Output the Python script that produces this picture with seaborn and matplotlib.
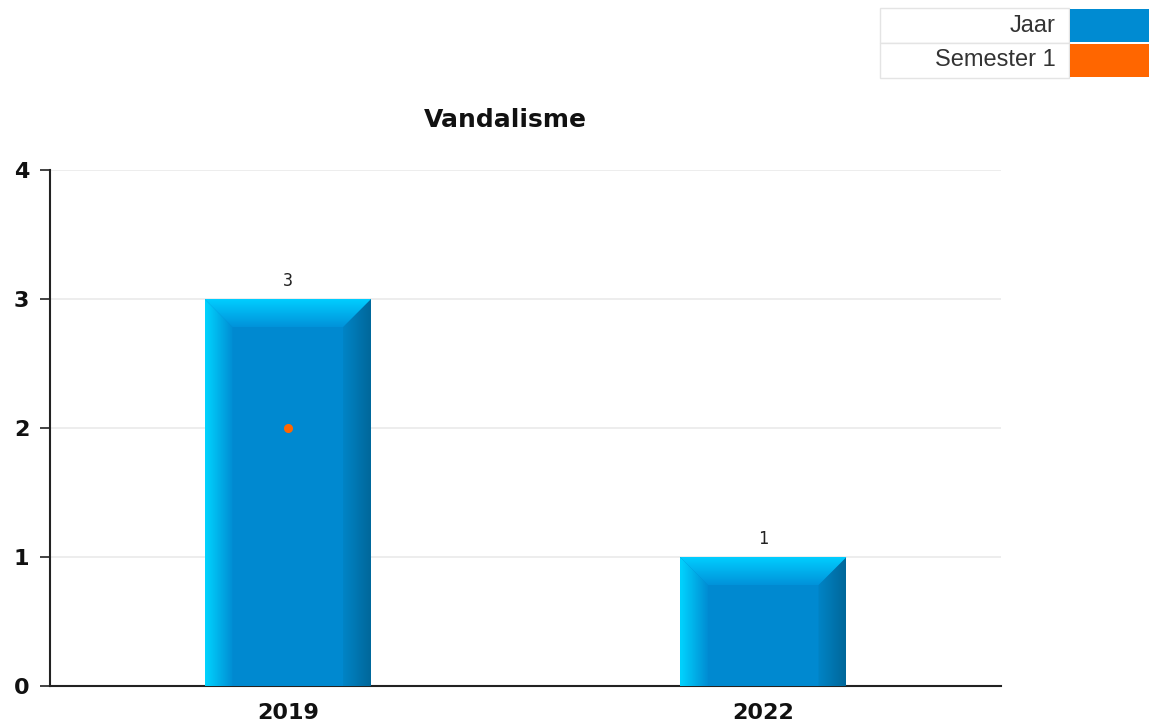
import numpy as np
import pandas as pd
import matplotlib
matplotlib.use('Agg')
import matplotlib.pyplot as plt
from matplotlib.patches import Polygon, Rectangle
from matplotlib.colors import LinearSegmentedColormap
import seaborn as sns

years = ['2019', '2022']
jaar = [3, 1]
semester_1 = [2, np.nan]
y_ticks = [0, 1, 2, 3, 4]
legend_labels = ['Jaar', 'Semester 1']
legend_colors = ['#008bd2', '#ff6600']

sns.set_style('white')
plt.rcParams['font.family'] = ['DejaVu Sans']

W, H = 1149, 724
fig = plt.figure(figsize=(W / 100, H / 100), dpi=100)
ax = fig.add_axes([50 / W, 38 / H, 951 / W, 516 / H])

df = pd.DataFrame({'year': years, 'jaar': jaar, 'sem': semester_1})
sns.barplot(data=df, x='year', y='jaar', order=years, color='#0089d0',
            saturation=1, width=0.35, ax=ax, zorder=4, linewidth=0)
sns.pointplot(data=df, x='year', y='sem', order=years, color='#ff6600',
              linestyle='none', markers='o', markersize=4.5, errorbar=None,
              ax=ax, zorder=7)

ax.set_xlim(-0.5, 1.5)
ax.set_ylim(0, 4)
ax.set_yticks(y_ticks)
ax.set_xlabel('')
ax.set_ylabel('')
ax.set_xticks([0, 1])
ax.set_xticklabels(years, fontweight='bold', fontsize=16, color='#111111')
ax.set_xticks([-0.5, 0.5, 1.5], minor=True)
ax.tick_params(axis='x', which='major', length=0, pad=12)
ax.tick_params(axis='x', which='minor', length=6, width=1.2, color='#222222', direction='out')
ax.tick_params(axis='y', length=7, width=1.2, color='#222222', pad=8, direction='out', left=True)
for t in ax.get_yticklabels():
    t.set_fontweight('bold')
    t.set_fontsize(16)
    t.set_color('#111111')
ax.yaxis.grid(True, color='#e8e8e8', linewidth=1.1)
ax.set_axisbelow(True)
for s in ['top', 'right']:
    ax.spines[s].set_visible(False)
for s in ['left', 'bottom']:
    ax.spines[s].set_color('#222222')
    ax.spines[s].set_linewidth(1.5)

# bevel look on the bars
fig.canvas.draw()
p0 = ax.transData.transform((0, 0))
p1 = ax.transData.transform((1, 1))
bx = 28 / (p1[0] - p0[0])
by = 28 / (p1[1] - p0[1])


def shade(verts, grad, extent, c0, c1):
    poly = Polygon(verts, closed=True, facecolor='none', edgecolor='none', transform=ax.transData)
    ax.add_patch(poly)
    cmap = LinearSegmentedColormap.from_list('g', [c0, c1])
    im = ax.imshow(grad, extent=extent, cmap=cmap, aspect='auto', origin='lower',
                   interpolation='bilinear', zorder=5)
    im.set_clip_path(poly)


g = np.linspace(0, 1, 64)
for bar in list(ax.patches):
    if not isinstance(bar, Rectangle) or bar.get_height() <= 0:
        continue
    bar.set_linewidth(0)
    bar.set_edgecolor('none')
    x0, y0 = bar.get_x(), bar.get_y()
    x1, y1 = x0 + bar.get_width(), y0 + bar.get_height()
    shade([(x0, y0), (x0, y1), (x0 + bx, y1 - by), (x0 + bx, y0)],
          g[None, :], (x0, x0 + bx, y0, y1), '#00d4ff', '#008dd3')
    shade([(x1, y0), (x1, y1), (x1 - bx, y1 - by), (x1 - bx, y0)],
          g[None, :], (x1 - bx, x1, y0, y1), '#0084c6', '#00679a')
    shade([(x0, y1), (x1, y1), (x1 - bx, y1 - by), (x0 + bx, y1 - by)],
          g[:, None], (x0, x1, y1 - by, y1), '#0093da', '#00cdff')
    ax.annotate(f'{bar.get_height():.0f}', (bar.get_x() + bar.get_width() / 2, y1),
                xytext=(0, 13), textcoords='offset points', ha='center', va='center',
                fontsize=12, family='DejaVu Sans Mono', color='#222222')

ax.set_xlim(-0.5, 1.5)
ax.set_ylim(0, 4)

fig.text(505 / W, 1 - 120 / H, 'Vandalisme', ha='center', va='center',
         fontsize=18, fontweight='bold', color='#111111')

# legend table, top right
for i, (lab, col) in enumerate(zip(legend_labels, legend_colors)):
    top = 8 + i * 35
    fig.add_artist(Rectangle((880 / W, 1 - (top + 35) / H), 189 / W, 35 / H,
                             transform=fig.transFigure, facecolor='white',
                             edgecolor='#e4e4e4', linewidth=1))
    fig.add_artist(Rectangle((1070 / W, 1 - (top + 34) / H), 79 / W, 33 / H,
                             transform=fig.transFigure, facecolor=col,
                             edgecolor='none'))
    fig.text(1056 / W, 1 - (top + 17.5) / H, lab, ha='right', va='center',
             fontsize=17, family='Liberation Sans', color='#333333')

fig.savefig('out.png', dpi=100)
